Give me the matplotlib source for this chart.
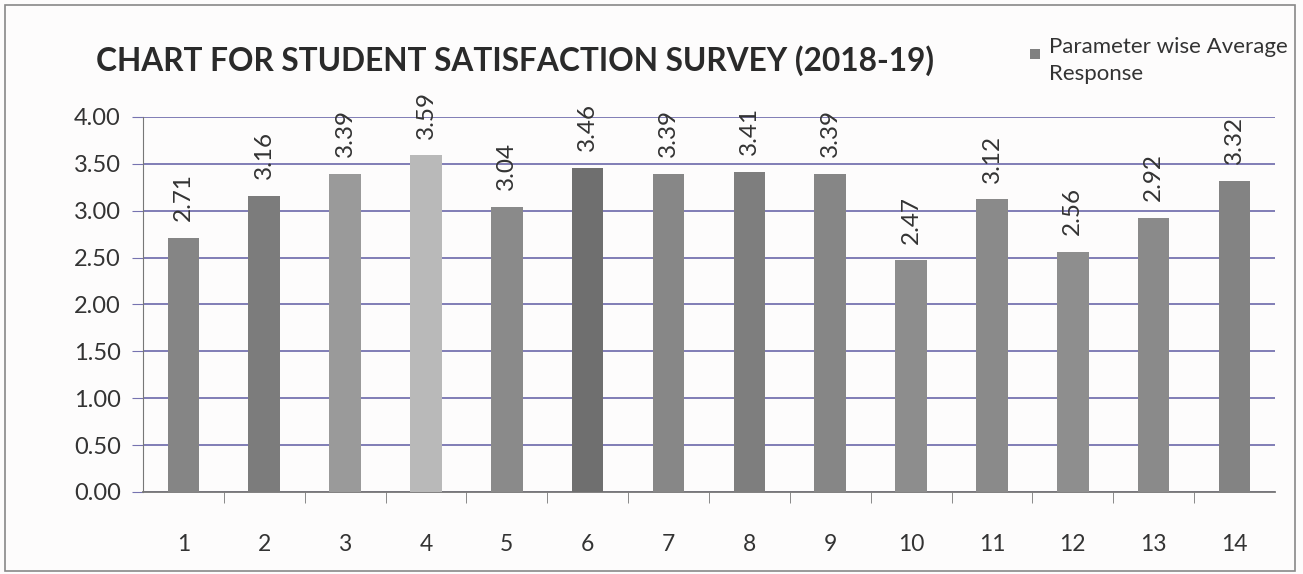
import matplotlib.pyplot as plt
from matplotlib.patches import Rectangle

categories = [str(i) for i in range(1, 15)]
values = [2.71, 3.16, 3.39, 3.59, 3.04, 3.46, 3.39, 3.41, 3.39, 2.47, 3.12, 2.56, 2.92, 3.32]
bar_greys = ['#858585', '#7c7c7c', '#9a9a9a', '#b9b9b9', '#8a8a8a', '#6f6f6f', '#878787',
             '#7e7e7e', '#868686', '#8d8d8d', '#8a8a8a', '#8e8e8e', '#8a8a8a', '#838383']
series_name = 'Parameter wise Average\nResponse'
title = 'CHART FOR STUDENT SATISFACTION SURVEY (2018-19)'

plt.rcParams['font.family'] = ['Lato', 'DejaVu Sans']

fig = plt.figure(figsize=(13.03, 5.74), dpi=100)
fig.patch.set_facecolor('#fdfcfc')
ax = fig.add_axes([0.1097, 0.1429, 0.8688, 0.6533])
ax.set_facecolor('#fdfcfc')

x = list(range(len(categories)))
bars = ax.bar(x, values, width=0.39, color=bar_greys, zorder=3)

# rotated value labels sitting a little above each bar
for xi, v in zip(x, values):
    ax.text(xi, v + 0.18, '%.2f' % v, rotation=90, ha='center', va='bottom',
            fontsize=17.5, color='#333333', zorder=4)

ax.set_xlim(-0.5, len(categories) - 0.5)
ax.set_ylim(0, 4.0)
ax.set_yticks([i * 0.5 for i in range(9)])
ax.set_yticklabels(['%.2f' % (i * 0.5) for i in range(9)], fontsize=17, color='#333333')
ax.yaxis.grid(True, color='#7673b0', linewidth=1.3, zorder=0)

ax.set_xticks(x)
ax.set_xticklabels(categories, fontsize=16.5, color='#333333')
ax.tick_params(axis='x', length=0, pad=30)
ax.set_xticks([i + 0.5 for i in range(len(categories) - 1)], minor=True)
ax.tick_params(axis='x', which='minor', length=8, color='#777777')
ax.tick_params(axis='y', length=8, color='#7673b0', pad=8)

for s in ['top', 'right']:
    ax.spines[s].set_visible(False)
ax.spines['left'].set_color('#777777')
ax.spines['bottom'].set_color('#777777')
ax.spines['bottom'].set_linewidth(1.3)

fig.text(0.074, 0.895, title, fontsize=22.8, fontweight='bold', color='#2a2a2a',
         ha='left', va='center')

fig.patches.append(Rectangle((0.7905, 0.897), 0.0078, 0.018, transform=fig.transFigure,
                             facecolor='#808080', edgecolor='none'))
fig.text(0.805, 0.895, series_name, fontsize=16, color='#333333', ha='left', va='center',
         linespacing=1.45)

fig.patches.append(Rectangle((0.004, 0.006), 0.99, 0.985, transform=fig.transFigure,
                             fill=False, edgecolor='#888888', linewidth=1.2))

fig.savefig('out.png', dpi=100)
